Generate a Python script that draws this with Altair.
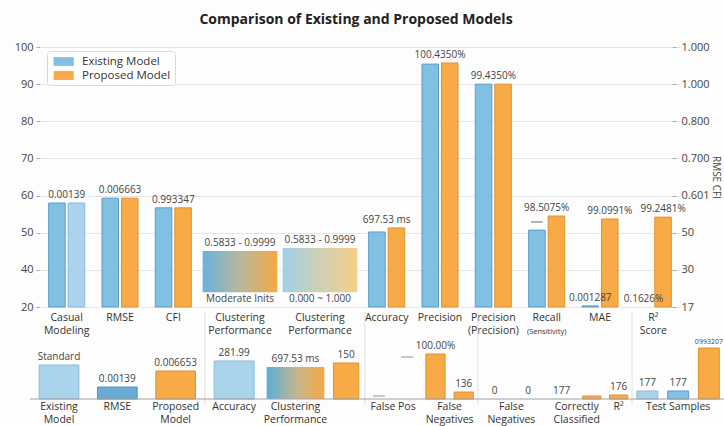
import altair as alt
import pandas as pd

# ------------------------------------------------------------------
# Upper panel: headline metrics for the existing and proposed models
# ------------------------------------------------------------------
groups = ["Casual Modeling", "RMSE", "CFI", "Clustering Inits", "Clustering Range",
          "Accuracy", "Precision", "Precision (Precision)", "Recall", "MAE", "R² Score"]
group_labels = ["Casual\nModeling", "RMSE", "CFI", "Clustering\nPerformance",
                "Clustering\nPerformance", "Accuracy", "Precision",
                "Precision\n(Precision)", "Recall", "MAE", "R²\nScore"]
group_sublabels = ["", "", "", "", "", "", "", "", "(Sensitivity)", "", ""]

existing_score = [58.0, 59.3, 56.7, None, None, 50.2, 95.4, 90.0, 50.7, 30.3, None]
proposed_score = [58.0, 59.3, 56.7, None, None, 51.3, 95.7, 90.0, 54.5, 53.7, 54.2]
proposed_tone = ["Light", "Proposed Model", "Proposed Model", None, None, "Proposed Model",
                 "Proposed Model", "Proposed Model", "Proposed Model", "Proposed Model",
                 "Proposed Model"]

# clustering performance is shown as a range band
range_groups = ["Clustering Inits", "Clustering Range"]
range_low = [34.0, 34.0]
range_high = [45.1, 45.9]
range_caption = ["0.5833 - 0.9999", "0.5833 - 0.9999"]
range_note = ["Moderate Inits", "0.000 ~ 1.000"]

# value annotations: group, which bar they sit on, text
note_group = ["Casual Modeling", "RMSE", "CFI", "Accuracy", "Precision",
              "Precision (Precision)", "Recall", "MAE", "MAE", "R² Score", "R² Score"]
note_bar = ["both", "both", "both", "both", "both", "both", "both",
            "proposed", "existing", "proposed", "existing"]
note_text = ["0.00139", "0.006663", "0.993347", "697.53 ms", "100.4350%", "99.4350%",
             "98.5075%", "99.0991%", "0.001287", "99.2481%", "0.1626%"]
recall_marker = 52.9

left_ticks = [100, 90, 80, 70, 60, 50, 40, 30]
left_tick_text = ["100", "90", "80", "70", "60", "50", "40", "20"]
right_tick_text = ["1.000", "1.000", "0.800", "0.700", "0.601", "50", "30", "17"]

# ------------------------------------------------------------------
# Lower panel: detail counts
# ------------------------------------------------------------------
detail_group = [0, 0, 0, 1, 1, 1, 2, 2, 2, 2, 3, 3, 3, 3, 3, 4, 4, 4]
detail_value = [34, 12, 28, 38, 32, 36, 3, 42, 45, 7, 0, 0, 0, 3, 4, 8, 8, 51]
detail_tone = ["Light", "Steel", "Proposed Model", "Light", "Blend", "Proposed Model",
               "Marker", "Marker", "Proposed Model", "Proposed Model", "None", "None", "None",
               "Proposed Model", "Proposed Model", "Light", "Existing Model", "Proposed Model"]
detail_text = ["Standard", "0.00139", "0.006653", "281.99", "697.53 ms", "150", "", "",
               "100.00%", "136", "0", "0", "177", "", "176", "177", "177", "0993207"]
detail_axis_text = ["Existing\nModel", "RMSE", "Proposed\nModel", "Accuracy",
                    "Clustering\nPerformance", "False Pos", "False\nNegatives",
                    "False\nNegatives", "Correctly\nClassified", "R²", "Test Samples"]
detail_axis_items = [[0], [1], [2], [3], [4], [6, 7], [8, 9], [10, 11], [12, 13], [14],
                     [15, 16, 17]]

# ------------------------------------------------------------------
# Layout (x positions are in slot units of the shared x scale)
# ------------------------------------------------------------------
TOP_SPAN = [1.5 if g.startswith("Clustering") else 1.0 for g in groups]
BAR_HALF = 0.155
BAR_SHIFT = 0.183
DETAIL_EDGES = [-0.19, 3.09, 6.09, 8.21, 11.1, 12.83]
DETAIL_WEIGHT = [1, 1, 1, 1.1, 1.2, 0.7, 1, 1, 1, 1, 1, 1, 1, 0.8, 0.8, 1, 1, 1]
SMALL_NOTES = {17}

FONT = "Open Sans"
TONES = ["Existing Model", "Proposed Model", "Light", "Steel"]
FILL = ["#80c0e3", "#f7aa45", "#a9d4ec", "#6aacd6"]
EDGE = ["#5c9dc6", "#df922f", "#86bbdc", "#4f93c0"]

X = alt.Scale(domain=[0, 12], range=[0, 640])
TOP = alt.Scale(domain=[30, 100], range=[260, 0])
BOT = alt.Scale(domain=[0, 60], range=[352, 292])


def hgrad(stops):
    return alt.Gradient(gradient="linear", x1=0, x2=1, y1=0, y2=0,
                        stops=[alt.GradientStop(offset=o, color=c) for o, c in stops])


# slot positions for the upper panel
centre, slot = {}, {}
acc = 0.0
for g, s in zip(groups, TOP_SPAN):
    slot[g] = (acc, acc + s)
    centre[g] = acc + s / 2
    acc += s

bar_rows = []
for g, e, p, pt in zip(groups, existing_score, proposed_score, proposed_tone):
    for val, tone, side in ((e, "Existing Model", -1), (p, pt, 1)):
        if val is None:
            continue
        mid = centre[g] + side * BAR_SHIFT
        bar_rows.append({"group": g, "tone": tone, "x": mid - BAR_HALF,
                         "x2": mid + BAR_HALF, "v": val, "base": 30})
bars = pd.DataFrame(bar_rows)


def bar_pos(g, which):
    i = groups.index(g)
    pick = {"existing": [existing_score[i]], "proposed": [proposed_score[i]],
            "both": [existing_score[i], proposed_score[i]]}[which]
    vals = [v for v in pick if v is not None]
    shift = {"existing": -BAR_SHIFT, "proposed": BAR_SHIFT, "both": 0}[which]
    return centre[g] + shift, (max(vals) if vals else 30)


notes = pd.DataFrame([
    {"cx": bar_pos(g, w)[0], "v": bar_pos(g, w)[1], "text": t}
    for g, w, t in zip(note_group, note_bar, note_text)
])

bands = pd.DataFrame({
    "x": [slot[g][0] + 0.05 for g in range_groups],
    "x2": [slot[g][1] - 0.05 for g in range_groups],
    "cx": [centre[g] for g in range_groups],
    "lo": range_low, "hi": range_high,
    "caption": range_caption, "note": range_note,
})

xlabels = pd.DataFrame({"cx": [centre[g] for g in groups], "label": group_labels,
                        "sub": group_sublabels, "base": 30})

marker_top = pd.DataFrame({"x": [centre["Recall"] - BAR_SHIFT - BAR_HALF * 0.7],
                           "x2": [centre["Recall"] - BAR_SHIFT + BAR_HALF * 0.7],
                           "v": [recall_marker]})

# slot positions for the lower panel
d_rows = []
for gi in range(len(DETAIL_EDGES) - 1):
    idx = [i for i, g in enumerate(detail_group) if g == gi]
    total = sum(DETAIL_WEIGHT[i] for i in idx)
    step = (DETAIL_EDGES[gi + 1] - DETAIL_EDGES[gi]) / total
    a = DETAIL_EDGES[gi]
    for i in idx:
        w = DETAIL_WEIGHT[i] * step
        tone = detail_tone[i]
        frac = 0.9 if tone == "Blend" else (0.42 if tone == "Marker" else 0.68)
        c = a + w / 2
        d_rows.append({"i": i, "cx": c, "x": c - w * frac / 2, "x2": c + w * frac / 2,
                       "v": detail_value[i], "tone": tone, "text": detail_text[i],
                       "fs": 7 if i in SMALL_NOTES else 10, "zero": 0})
        a += w
detail = pd.DataFrame(d_rows)
dcx = dict(zip(detail["i"], detail["cx"]))
detail_axis = pd.DataFrame({
    "cx": [sum(dcx[i] for i in items) / len(items) for items in detail_axis_items],
    "label": detail_axis_text, "zero": 0})
separators = pd.DataFrame({"x": DETAIL_EDGES[1:-1], "lo": -6, "hi": 87})
baseline = pd.DataFrame({"x": [DETAIL_EDGES[0]], "x2": [DETAIL_EDGES[-1]], "zero": [0]})

# ------------------------------------------------------------------
# Encodings shared by the layers
# ------------------------------------------------------------------
legend = alt.Legend(values=["Existing Model", "Proposed Model"], title=None, orient="none",
                    legendX=7, legendY=4, direction="vertical", fillColor="white",
                    strokeColor="#d9d9d9", padding=4, cornerRadius=3,
                    symbolType="M-0.6,-0.68H2.5V0.68H-0.6Z", symbolSize=169,
                    symbolStrokeWidth=0, labelFont=FONT, labelFontSize=11.5,
                    labelColor="#333333", labelOffset=18, rowPadding=2)
color = alt.Color("tone:N", scale=alt.Scale(domain=TONES, range=FILL), legend=legend)
stroke = alt.Stroke("tone:N", scale=alt.Scale(domain=TONES, range=EDGE), legend=None)


def xq(field):
    return alt.X(f"{field}:Q", scale=X, axis=None)


def ytop(field, axis=None):
    return alt.Y(f"{field}:Q", scale=TOP, axis=axis)


def ybot(field):
    return alt.Y(f"{field}:Q", scale=BOT, axis=None)


def tick_expr(texts):
    parts = [f"datum.value == {v} ? '{t}'" for v, t in zip(left_ticks, texts)]
    return " : ".join(parts) + " : ''"


left_axis = alt.Axis(values=left_ticks, labelExpr=tick_expr(left_tick_text), grid=True,
                     gridColor="#e6e6e6", domain=False, tickSize=4, tickColor="#aaaaaa",
                     labelPadding=3, labelFont=FONT, labelFontSize=11, labelColor="#444444",
                     title=None, orient="left")
right_axis = alt.Axis(values=left_ticks, labelExpr=tick_expr(right_tick_text), grid=False,
                      domain=False, tickSize=4, tickColor="#aaaaaa", labelPadding=5,
                      labelFont=FONT, labelFontSize=11, labelColor="#444444",
                      title="RMSE CFI", titleAngle=90, titleFont=FONT, titleFontSize=10,
                      titleFontWeight="normal", titleColor="#444444", titlePadding=1,
                      orient="right")

# ------------------------------------------------------------------
# Upper panel layers
# ------------------------------------------------------------------
top_bars = alt.Chart(bars).mark_rect(strokeWidth=1).encode(
    x=xq("x"), x2="x2", y=ytop("v", left_axis), y2="base", color=color, stroke=stroke)

band_a = alt.Chart(bands.iloc[[0]]).mark_rect(
    fill=hgrad([(0, "#66b3de"), (0.5, "#b8b79c"), (1, "#f6a843")])
).encode(x=xq("x"), x2="x2", y=ytop("hi"), y2="lo")
band_b = alt.Chart(bands.iloc[[1]]).mark_rect(
    fill=hgrad([(0, "#9fd0e6"), (0.5, "#cfd0b4"), (1, "#f5cf85")])
).encode(x=xq("x"), x2="x2", y=ytop("hi"), y2="lo")
band_caption = alt.Chart(bands).mark_text(
    baseline="bottom", dy=-3, font=FONT, fontSize=10, color="#444444"
).encode(x=xq("cx"), y=ytop("hi"), text="caption:N")
band_note = alt.Chart(bands).mark_text(
    baseline="top", dy=2, font=FONT, fontSize=10, color="#444444"
).encode(x=xq("cx"), y=ytop("lo"), text="note:N")

top_notes = alt.Chart(notes).mark_text(
    baseline="bottom", dy=-3, font=FONT, fontSize=10, color="#444444"
).encode(x=xq("cx"), y=ytop("v"), text="text:N")

recall_dash = alt.Chart(marker_top).mark_rule(color="#9a9a9a", strokeWidth=1.5).encode(
    x=xq("x"), x2="x2", y=ytop("v"))

top_xlabels = alt.Chart(xlabels).mark_text(
    baseline="top", dy=6, font=FONT, fontSize=10.5, lineHeight=12.5, lineBreak="\n",
    color="#333333"
).encode(x=xq("cx"), y=ytop("base", right_axis), text="label:N")
top_sublabels = alt.Chart(xlabels).mark_text(
    baseline="top", dy=21, font=FONT, fontSize=7.5, color="#333333"
).encode(x=xq("cx"), y=ytop("base"), text="sub:N")

# ------------------------------------------------------------------
# Lower panel layers
# ------------------------------------------------------------------
bot_bars = alt.Chart(detail).transform_filter(
    alt.FieldOneOfPredicate(field="tone", oneOf=TONES)
).mark_rect(strokeWidth=1).encode(
    x=xq("x"), x2="x2", y=ybot("v"), y2="zero", color=color, stroke=stroke)

bot_blend = alt.Chart(detail).transform_filter(alt.datum.tone == "Blend").mark_rect(
    fill=hgrad([(0, "#5aaed9"), (0.55, "#c9b58a"), (1, "#f6a843")])
).encode(x=xq("x"), x2="x2", y=ybot("v"), y2="zero")

bot_markers = alt.Chart(detail).transform_filter(alt.datum.tone == "Marker").mark_rule(
    color="#b5b5b5", strokeWidth=1.5
).encode(x=xq("x"), x2="x2", y=ybot("v"))

bot_notes = alt.Chart(detail).mark_text(
    baseline="bottom", dy=-3, font=FONT, color="#444444"
).encode(x=xq("cx"), y=ybot("v"), text="text:N", size=alt.Size("fs:Q", scale=None))

bot_axis = alt.Chart(detail_axis).mark_text(
    baseline="top", dy=3, font=FONT, fontSize=10.5, lineHeight=12.5, lineBreak="\n",
    color="#333333"
).encode(x=xq("cx"), y=ybot("zero"), text="label:N")

bot_separators = alt.Chart(separators).mark_rule(color="#e2e2e2", strokeWidth=1).encode(
    x=xq("x"), y=ybot("lo"), y2="hi")
bot_baseline = alt.Chart(baseline).mark_rule(color="#a0a0a0", strokeWidth=1).encode(
    x=xq("x"), x2="x2", y=ybot("zero"))

chart = alt.layer(
    top_bars, band_a, band_b, band_caption, band_note, top_notes, recall_dash,
    top_xlabels, top_sublabels,
    bot_separators, bot_bars, bot_blend, bot_markers, bot_baseline, bot_notes, bot_axis,
).resolve_scale(
    y="independent"
).properties(
    width=632, height=379,
    autosize=alt.AutoSizeParams(type="none"),
    padding={"left": 40, "top": 47, "right": 52, "bottom": 0},
    background="#fdfdfd",
    title=alt.TitleParams("Comparison of Existing and Proposed Models", font=FONT,
                          fontSize=14, fontWeight="bold", color="#222222",
                          anchor="middle", baseline="bottom", offset=0),
).configure_view(stroke=None)

chart.save("out.html", embed_options={"renderer": "svg", "actions": False})
